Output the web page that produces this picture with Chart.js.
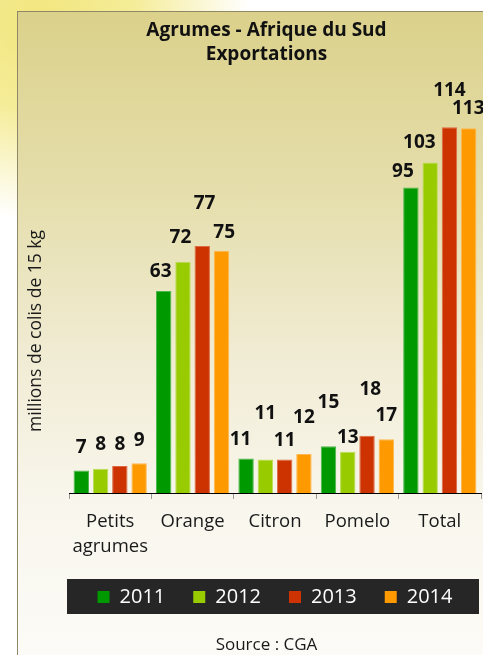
<!DOCTYPE html>
<html>
<head>
<meta charset="utf-8">
<script src="https://cdn.jsdelivr.net/npm/chart.js@4/dist/chart.umd.min.js"></script>
<style>
  html, body { margin: 0; padding: 0; }
  body {
    width: 483px; height: 655px; overflow: hidden; position: relative;
    background: radial-gradient(ellipse 210px 200px at 40px 20px, #F2E67E 0%, #F5EC98 45%, rgba(255,255,255,0) 100%), #fff;
  }
  #panel {
    position: absolute; left: 17px; top: 11px; right: -5px; bottom: -5px;
    border-left: 1px solid #8E8868; border-top: 1px solid #8E8868;
    background: linear-gradient(to bottom, #DBD18B 0%, #E5DEAC 28%, #F0EBD2 52%, #F8F6EC 75%, #FCFBF7 100%);
  }
  #chart { position: absolute; left: 0; top: 0; }
</style>
</head>
<body>
<div id="panel"></div>
<canvas id="chart" width="483" height="655"></canvas>
<script>
const categories = [['Petits', 'agrumes'], 'Orange', 'Citron', 'Pomelo', 'Total'];
const years = ['2011', '2012', '2013', '2014'];

// bar heights (millions de colis de 15 kg)
const exp2011 = [7.0, 63.1, 10.8, 14.6, 95.5];
const exp2012 = [7.6, 72.3, 10.5, 12.9, 103.3];
const exp2013 = [8.4, 77.2, 10.5, 17.9, 114.3];
const exp2014 = [9.3, 75.7, 12.2, 16.8, 114.0];

// numbers printed above the bars
const lab2011 = [7, 63, 11, 15, 95];
const lab2012 = [8, 72, 11, 13, 103];
const lab2013 = [8, 77, 11, 18, 114];
const lab2014 = [9, 75, 12, 17, 113];

const colors = ['#009900', '#99CC00', '#CC3300', '#FF9900'];
const edges = ['#4CB84C', '#BBDD55', '#DD6A44', '#FFB850'];

// label placement: [dx, lift above bar top] in px, as moved by hand in the original
const labelNudge = [
    [[0, 23], [-3, 19], [-5.5, 19], [0, 44], [-8, 15.6]],
    [[0, 24], [-2.5, 24.5], [0, 45.6], [0, 14], [-10.8, 20.3]],
    [[0, 21.5], [2.3, 42.7], [0, 19.3], [3.3, 45.7], [0, 37]],
    [[0, 23], [2.7, 18.2], [0, 36.8], [0, 23.7], [-0.5, 19.6]]
];

const series = [exp2011, exp2012, exp2013, exp2014];
const printed = [lab2011, lab2012, lab2013, lab2014];

Chart.defaults.font.family = "'Open Sans', sans-serif";
Chart.defaults.color = '#1a1a1a';

// dark band behind the legend
const legendBand = {
    id: 'legendBand',
    beforeDraw(chart) {
        const hb = chart.legend.legendHitBoxes[0];
        if (!hb) return;
        const cy = hb.top + hb.height / 2;
        const ctx = chart.ctx;
        ctx.save();
        ctx.fillStyle = '#262626';
        ctx.fillRect(chart.chartArea.left - 2, cy - 18, chart.chartArea.right - chart.chartArea.left, 35);
        ctx.restore();
    }
};

// y axis title, sits below the middle of the axis in the original
const yTitle = {
    id: 'yTitle',
    afterDraw(chart) {
        const ctx = chart.ctx;
        const a = chart.chartArea;
        ctx.save();
        ctx.translate(a.left - 33, a.bottom - 162);
        ctx.rotate(-Math.PI / 2);
        ctx.font = "17.5px 'Open Sans', sans-serif";
        ctx.fillStyle = '#1a1a1a';
        ctx.textAlign = 'center';
        ctx.textBaseline = 'middle';
        ctx.fillText('millions de colis de 15 kg', 0, 0);
        ctx.restore();
    }
};

const valueLabels = {
    id: 'valueLabels',
    afterDatasetsDraw(chart) {
        const ctx = chart.ctx;
        ctx.save();
        ctx.font = "bold 19px 'Open Sans', sans-serif";
        ctx.fillStyle = '#111';
        ctx.textAlign = 'center';
        ctx.textBaseline = 'middle';
        chart.data.datasets.forEach((ds, d) => {
            chart.getDatasetMeta(d).data.forEach((bar, i) => {
                const n = labelNudge[d][i];
                ctx.fillText(String(printed[d][i]), bar.x + n[0], bar.y - n[1]);
            });
        });
        ctx.restore();
    }
};

const chart = new Chart(document.getElementById('chart'), {
    type: 'bar',
    data: {
        labels: categories,
        datasets: years.map((y, d) => ({
            label: y,
            data: series[d],
            backgroundColor: colors[d],
            borderColor: edges[d],
            borderWidth: 1,
            categoryPercentage: 0.936,
            barPercentage: 0.8
        }))
    },
    options: {
        responsive: false,
        animation: false,
        devicePixelRatio: 1,
        layout: { padding: { left: 52, right: 2, top: 0, bottom: 0 } },
        scales: {
            x: {
                grid: { drawOnChartArea: false, tickLength: 6, color: '#999' },
                border: { color: '#000', width: 1 },
                ticks: {
                    padding: 10,
                    color: '#1a1a1a',
                    font: { size: 18.5, lineHeight: 1.35 }
                },
                afterFit(scale) { scale.height = 66; }
            },
            y: {
                min: 0,
                max: 120,
                grid: { display: false, drawTicks: false },
                border: { display: false },
                ticks: { display: false },
                afterFit(scale) { scale.width = 17; }
            }
        },
        plugins: {
            title: {
                display: true,
                text: ['Agrumes - Afrique du Sud', 'Exportations'],
                color: '#111',
                font: { size: 19, weight: 'bold', lineHeight: 1.263 },
                padding: { top: 19, bottom: 42 }
            },
            subtitle: {
                display: true,
                position: 'bottom',
                text: 'Source : CGA',
                color: '#1a1a1a',
                font: { size: 17, lineHeight: 1.2 },
                padding: { top: 17.6, bottom: 0 }
            },
            legend: {
                position: 'bottom',
                fullSize: false,
                labels: {
                    color: '#fff',
                    boxWidth: 12,
                    boxHeight: 12,
                    padding: 28,
                    font: { size: 20 },
                    generateLabels(c) {
                        return Chart.defaults.plugins.legend.labels.generateLabels(c).map(l => {
                            l.lineWidth = 0;
                            l.strokeStyle = l.fillStyle;
                            return l;
                        });
                    }
                }
            },
            tooltip: { enabled: false }
        }
    },
    plugins: [legendBand, yTitle, valueLabels]
});
</script>
</body>
</html>
